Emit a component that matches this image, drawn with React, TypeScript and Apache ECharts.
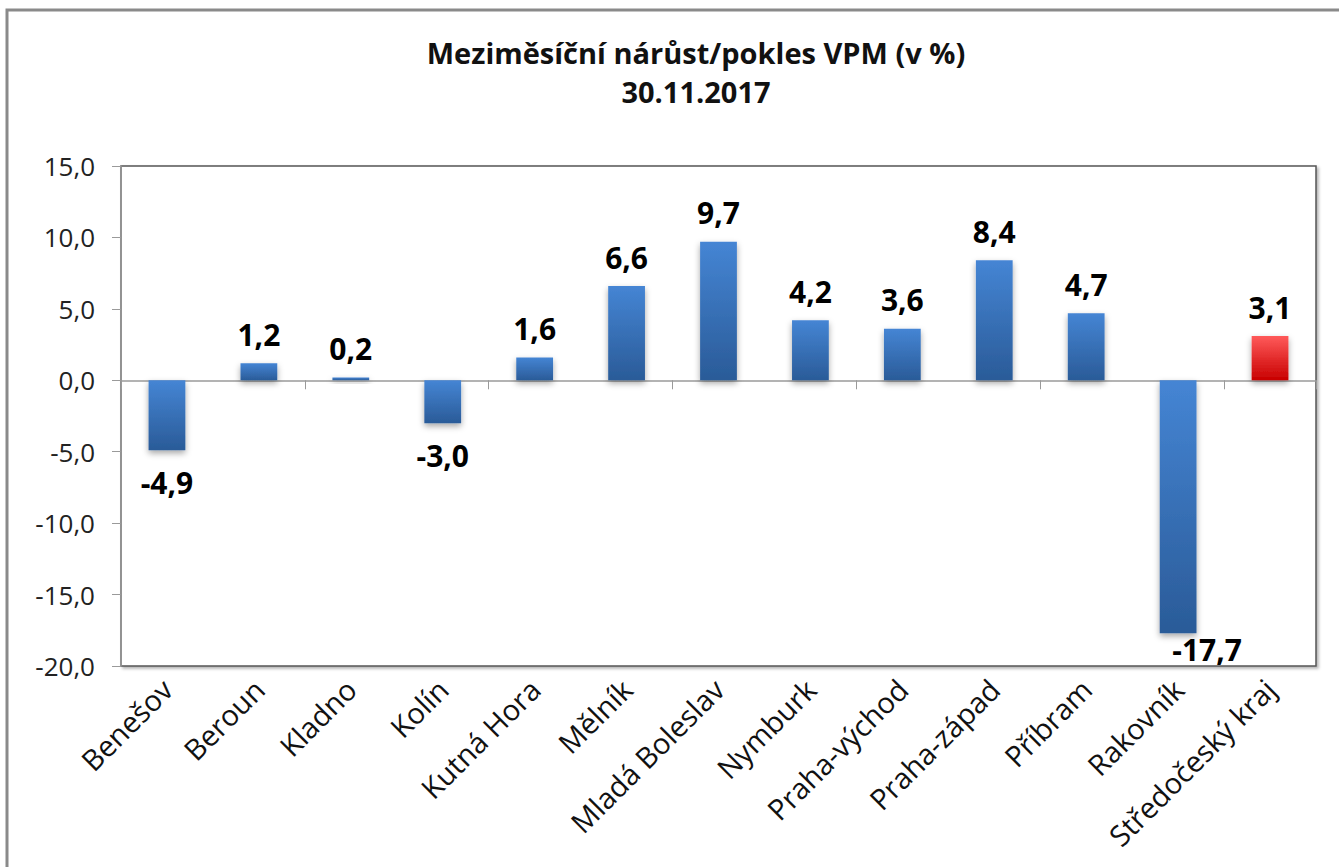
import React, { useEffect, useRef } from "react";
import * as echarts from "echarts";

const categories = [
  "Benešov", "Beroun", "Kladno", "Kolín", "Kutná Hora", "Mělník", "Mladá Boleslav",
  "Nymburk", "Praha-východ", "Praha-západ", "Příbram", "Rakovník", "Středočeský kraj",
];
const values = [-4.9, 1.2, 0.2, -3.0, 1.6, 6.6, 9.7, 4.2, 3.6, 8.4, 4.7, -17.7, 3.1];
const highlightIndex = 12;
const titleLines = ["Meziměsíční nárůst/pokles VPM (v %)", "30.11.2017"];
const yMin = -20;
const yMax = 15;
const yStep = 5;

const FONT = "'Open Sans', 'DejaVu Sans', sans-serif";
const fmt = (v: number) => v.toFixed(1).replace(".", ",");

export default function App() {
  const ref = useRef<HTMLDivElement>(null);
  useEffect(() => {
    if (!ref.current) return;
    const chart = echarts.init(ref.current, undefined, { renderer: "svg" });
    const blue = new echarts.graphic.LinearGradient(0, 0, 0, 1, [
      { offset: 0, color: "#4585d4" },
      { offset: 1, color: "#2a5b98" },
    ]);
    const red = new echarts.graphic.LinearGradient(0, 0, 0, 1, [
      { offset: 0, color: "#ff5a5a" },
      { offset: 1, color: "#c80000" },
    ]);
    const data = values.map((v, i) => {
      const deep = v < -15;
      return {
        value: v,
        itemStyle: { color: i === highlightIndex ? red : blue },
        label: {
          position: v >= 0 ? "top" : "bottom",
          distance: v >= 0 ? 14 : deep ? 1 : 17,
          offset: deep ? [29, 0] : [0, 0],
        },
      };
    });
    chart.setOption({
      animation: false,
      backgroundColor: "#fff",
      title: {
        text: titleLines.join("\n"),
        left: 691,
        textAlign: "center",
        top: 28,
        textStyle: {
          fontFamily: FONT,
          fontSize: 29,
          fontWeight: "bold",
          color: "#111",
          lineHeight: 39,
        },
      },
      graphic: [
        {
          type: "rect",
          shape: { x: 7, y: 10, width: 1345, height: 870 },
          style: { fill: "none", stroke: "#8a8a8a", lineWidth: 3 },
          silent: true,
        },
      ],
      grid: {
        left: 121,
        top: 166,
        right: 23,
        bottom: 201,
        show: true,
        borderColor: "#555",
        borderWidth: 1.5,
        shadowColor: "rgba(0,0,0,0.3)",
        shadowBlur: 3,
        shadowOffsetX: 2,
        shadowOffsetY: 2,
        backgroundColor: "#fff",
      },
      xAxis: [
        {
          type: "category",
          data: categories,
          position: "bottom",
          axisLine: { onZero: false, show: false },
          axisTick: { show: false },
          axisLabel: {
            rotate: 45,
            interval: 0,
            margin: 18,
            fontFamily: FONT,
            fontSize: 29,
            color: "#111",
          },
        },
        {
          type: "category",
          data: categories,
          position: "top",
          axisLine: { onZero: true, lineStyle: { color: "#9a9a9a", width: 1.5 } },
          axisTick: { show: true, inside: true, length: 9, lineStyle: { color: "#9a9a9a" } },
          axisLabel: { show: false },
        },
      ],
      yAxis: {
        type: "value",
        min: yMin,
        max: yMax,
        interval: yStep,
        axisLine: { show: true, lineStyle: { color: "#9a9a9a", width: 1.5 } },
        axisTick: { show: true, length: 9, lineStyle: { color: "#9a9a9a" } },
        splitLine: { show: false },
        axisLabel: {
          formatter: (v: number) => fmt(v),
          fontFamily: FONT,
          fontSize: 26,
          color: "#222",
          margin: 26,
        },
      },
      series: [
        {
          type: "bar",
          xAxisIndex: 0,
          data,
          barWidth: "40%",
          itemStyle: {
            shadowColor: "rgba(0,0,0,0.35)",
            shadowBlur: 6,
            shadowOffsetY: 3,
          },
          label: {
            show: true,
            formatter: (p: any) => fmt(p.value),
            fontFamily: FONT,
            fontSize: 30,
            fontWeight: "bold",
            color: "#000",
          },
        },
      ],
    });
    return () => chart.dispose();
  }, []);
  return (
    <div
      ref={ref}
      style={{ position: "absolute", left: 0, top: 0, width: 1339, height: 867 }}
    />
  );
}
